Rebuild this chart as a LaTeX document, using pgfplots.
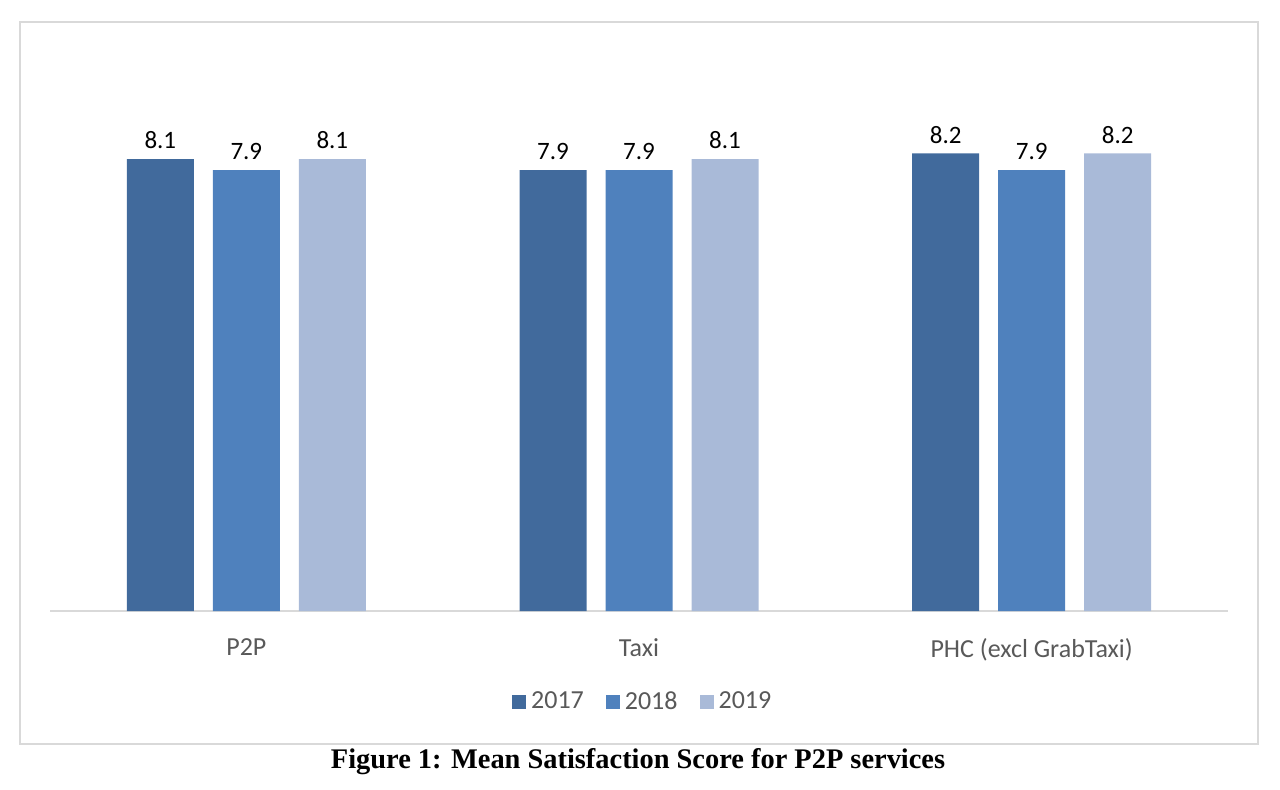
\documentclass[border=0pt]{standalone}
\usepackage{pgfplots}
\pgfplotsset{compat=1.18}
\usepackage{fontspec}
\setmainfont{Carlito}
\newfontfamily\timesfont{Liberation Serif}
\definecolor{c17}{RGB}{65,106,156}
\definecolor{c18}{RGB}{79,129,189}
\definecolor{c19}{RGB}{169,186,216}
\definecolor{txt}{RGB}{89,89,89}
\definecolor{frame}{RGB}{217,217,217}
\begin{document}
\begin{tikzpicture}
\path[use as bounding box] (0,0) rectangle (640pt,-395pt);
\draw[frame, line width=1.2pt] (10pt,-11pt) rectangle (629pt,-372pt);
\begin{axis}[
  at={(25pt,-305.5pt)}, anchor=south west,
  scale only axis, width=589pt, height=279pt,
  ymin=0, ymax=10, xmin=-0.5, xmax=2.5,
  ybar=9.5pt, bar width=33.5pt,
  axis y line=none,
  axis x line*=bottom,
  x axis line style={frame, line width=1pt, -},
  xtick={0,1,2},
  xticklabels={P2P,Taxi,PHC (excl GrabTaxi)},
  xtick style={draw=none},
  xticklabel style={font=\fontsize{13}{15}\selectfont, text=txt, yshift=-6pt},
  nodes near coords,
  nodes near coords style={font=\fontsize{12.5}{14}\selectfont, text=black, yshift=1.5pt, /pgf/number format/fixed, /pgf/number format/precision=1, /pgf/number format/fixed zerofill, /pgf/number format/assume math mode=true},
  legend columns=3,
  legend style={at={(0.504,-0.163)}, anchor=center, draw=none, font=\fontsize{13}{15}\selectfont, text=txt,
    /tikz/every even column/.append style={column sep=9pt}},
  legend image code/.code={\fill[#1] (0pt,-3.5pt) rectangle (7pt,3.5pt);},
  legend cell align=left,
]
\addplot[fill=c17, draw=none] coordinates {(0,8.1) (1,7.9) (2,8.2)};
\addplot[fill=c18, draw=none] coordinates {(0,7.9) (1,7.9) (2,7.9)};
\addplot[fill=c19, draw=none] coordinates {(0,8.1) (1,8.1) (2,8.2)};
\legend{\hspace{0.5pt}2017,\hspace{0.5pt}2018,\hspace{0.5pt}2019}
\end{axis}
\node[font=\timesfont\bfseries\fontsize{14.2}{16}\selectfont] at (319pt,-381pt) {Figure 1: Mean Satisfaction Score for P2P services};
\end{tikzpicture}
\end{document}
